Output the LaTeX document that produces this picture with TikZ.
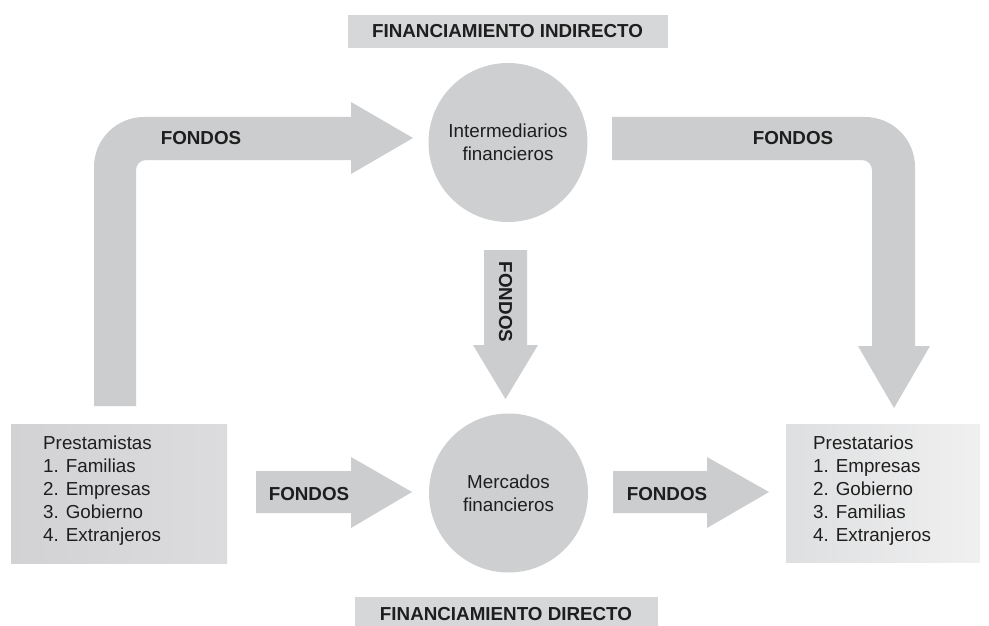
\documentclass[tikz,border=0pt]{standalone}
\usepackage{fontspec}
\setmainfont{Liberation Sans}
\definecolor{arrowgray}{RGB}{204,205,207}
\definecolor{circgray}{RGB}{206,207,209}
\definecolor{lboxgray}{RGB}{210,210,212}
\definecolor{lboxlight}{RGB}{220,220,222}
\definecolor{rboxgray}{RGB}{222,223,224}
\definecolor{rboxlight}{RGB}{240,240,241}
\definecolor{labgray}{RGB}{214,215,217}
\definecolor{txt}{RGB}{30,30,30}
\begin{document}
\begin{tikzpicture}[x=1pt,y=-1pt,
  every node/.style={text=txt},
  bodyfont/.style={font=\fontsize{18.8}{23}\selectfont},
  boldfont/.style={font=\fontsize{18.8}{23}\selectfont\bfseries},
  blockarrow/.style={fill=arrowgray,draw=none},
  roundnode/.style={circle,fill=circgray,draw=none,minimum size=159pt,inner sep=0pt,align=center,bodyfont},
  labelbox/.style={fill=labgray,draw=none,inner sep=0pt},
  listtext/.style={bodyfont,align=left,anchor=west,inner sep=0pt}
]
\useasboundingbox (0,0) rectangle (989,626);
\fill[white] (0,0) rectangle (989,626);

% label boxes
\fill[labgray] (348,15) rectangle (668,48);
\node[boldfont] (indir) at (507.5,31.5) {FINANCIAMIENTO INDIRECTO};
\fill[labgray] (355,597) rectangle (658,626);
\node[boldfont] (dir) at (506,614) {FINANCIAMIENTO DIRECTO};

% circles
\node[roundnode] (inter) at (508,142.5) {Intermediarios\\financieros};
\node[roundnode] (merc) at (508.5,493) {Mercados\\financieros};

% boxes
\shade[left color=lboxgray,right color=lboxlight] (11,424) rectangle (227,563);
\coordinate (lbox) at (119,493.5);
\node[listtext] (lend) at (43,491) {Prestamistas\\1. Familias\\2. Empresas\\3. Gobierno\\4. Extranjeros};
\shade[left color=rboxgray,right color=rboxlight] (786,424) rectangle (980,562);
\coordinate (rbox) at (883,493);
\node[listtext] (borr) at (813,491) {Prestatarios\\1. Empresas\\2. Gobierno\\3. Familias\\4. Extranjeros};

% left bent arrow
\fill[blockarrow] (94,406) -- (94,167) arc[start angle=180,end angle=270,radius=50]
  -- (351,117) -- (351,102) -- (413,138) -- (351,174) -- (351,160) -- (146,160)
  arc[start angle=270,end angle=180,radius=10] -- (136,406) -- cycle;
\node[boldfont] (f1) at (201,138) {FONDOS};

% right bent arrow
\fill[blockarrow] (612,117) -- (865,117) arc[start angle=270,end angle=360,radius=50]
  -- (915,346) -- (930,346) -- (894,408) -- (858,346) -- (872,346) -- (872,170)
  arc[start angle=360,end angle=270,radius=10] -- (612,160) -- cycle;
\node[boldfont] (f2) at (793,138) {FONDOS};

% middle down arrow
\fill[blockarrow] (484,250) -- (527,250) -- (527,345) -- (538,345) -- (505.5,399)
  -- (473,345) -- (484,345) -- cycle;
\node[boldfont,rotate=-90] (f3) at (505.5,302) {FONDOS};

% bottom left arrow
\fill[blockarrow] (256,471) -- (351,471) -- (351,457) -- (412,492) -- (351,528)
  -- (351,513) -- (256,513) -- cycle;
\node[boldfont] (f4) at (309,494) {FONDOS};

% bottom right arrow
\fill[blockarrow] (613,471) -- (707,471) -- (707,457) -- (769,492) -- (707,528)
  -- (707,513) -- (613,513) -- cycle;
\node[boldfont] (f5) at (667,494) {FONDOS};
\end{tikzpicture}
\end{document}
